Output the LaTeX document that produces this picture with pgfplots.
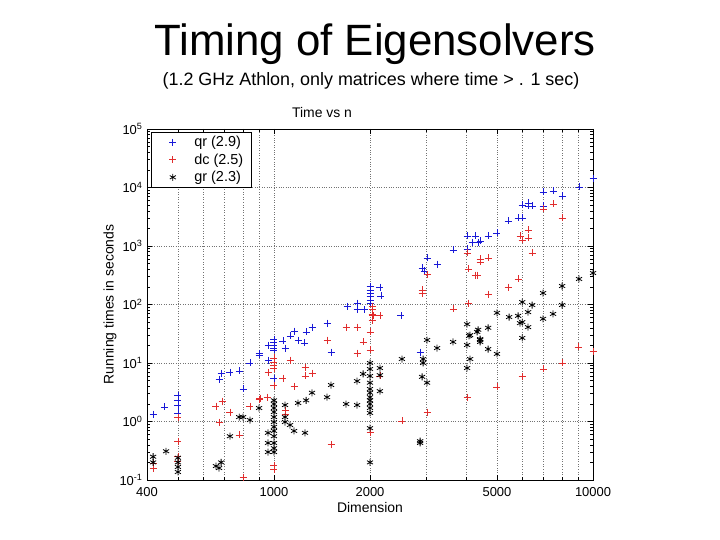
\documentclass[border=0pt]{standalone}
\usepackage{fontspec}
\setmainfont{Liberation Sans}
\usepackage{pgfplots}
\pgfplotsset{compat=1.18}
\definecolor{mblue}{RGB}{25,25,215}
\definecolor{mred}{RGB}{225,45,45}
\pgfplotsset{widelegend/.style={legend image code/.code={\path[draw=none,fill=none] (0bp,-3bp) rectangle (35bp,3bp); \draw[mark repeat=2,mark phase=2,##1] plot coordinates {(0bp,0bp) (15.5bp,0bp) (31bp,0bp)};}}}
\begin{document}
\begin{tikzpicture}[x=1bp,y=1bp]
\useasboundingbox (0,0) rectangle (720,540);
\fill[white] (0,0) rectangle (720,540);
\node[font=\fontsize{44}{48}\selectfont, anchor=base] at (375,484) {Timing of Eigensolvers};
\node[font=\fontsize{18}{20}\selectfont, anchor=base] at (371,454) {(1.2 GHz Athlon, only matrices where time > . 1 sec)};
\node[font=\fontsize{14}{16}\selectfont, anchor=base] at (322,422) {Time vs n};
\begin{axis}[
  at={(147bp,60bp)}, anchor=south west,
  scale only axis, width=446bp, height=351bp,
  xmode=log, ymode=log,
  xmin=400, xmax=10000, ymin=0.1, ymax=100000,
  xtick={400,1000,2000,5000,10000},
  xticklabels={400,1000,2000,5000,10000},
  minor xtick={500,600,700,800,900,3000,4000,6000,7000,8000,9000},
  ytick={0.1,1,10,100,1000,10000,100000},
  yticklabels={10\textsuperscript{-1},10\textsuperscript{0},10\textsuperscript{1},10\textsuperscript{2},10\textsuperscript{3},10\textsuperscript{4},10\textsuperscript{5}},
  minor ytick={0.2,0.3,0.4,0.5,0.6,0.7,0.8,0.9,2,3,4,5,6,7,8,9,20,30,40,50,60,70,80,90,200,300,400,500,600,700,800,900,2000,3000,4000,5000,6000,7000,8000,9000,20000,30000,40000,50000,60000,70000,80000,90000},
  xmajorgrids=true, xminorgrids=true, ymajorgrids=true, yminorgrids=false,
  grid style={dotted, black!55, line width=0.6bp},
  minor grid style={dotted, black!55, line width=0.6bp},
  tick align=inside,
  major tick length=5bp, minor tick length=3bp,
  axis line style={line width=0.6bp},
  tick style={line width=0.5bp, black},
  ticklabel style={font=\fontsize{13}{15}\selectfont},
  xticklabel style={yshift=-4bp},
  yticklabel style={xshift=-1bp},
  xlabel={Dimension},
  ylabel={Running times in seconds},
  xlabel style={font=\fontsize{14}{16}\selectfont, at={(axis description cs:0.5,-0.077)}, anchor=center},
  ylabel style={font=\fontsize{14}{16}\selectfont, at={(axis description cs:-0.083,0.5)}, anchor=center},
  legend style={at={(axis description cs:0.009,0.991)}, anchor=north west, draw=black, fill=white,
    font=\fontsize{14.5}{16}\selectfont, line width=0.6bp, row sep=1.5bp, inner xsep=6bp, inner ysep=2bp,
    /tikz/every even column/.append style={column sep=3bp}},
  legend cell align=left,
  mark size=3.5bp,
]
\addplot[only marks, widelegend, mark=+, mblue, mark options={line width=0.8bp}] coordinates {
(418,1.34) (455,1.77) (500,2.8) (500,2.3) (500,1.91) (500,1.40) (898,14.8) (841,10.0) (778,7.3) (728,7.0) (683,6.7) (673,5.3) (800,3.6)
(1000,25.7) (1000,22.9) (1000,20.3) (1000,18.0) (1000,16.7) (958,20.3) (958,11.2) (898,13.7) (1000,5.5) (1067,23.8) (1083,18.0)
(1123,29) (1156,35) (1190,24.7) (1242,22.0) (1261,34) (1316,41) (1467,48) (1510,15.4) (1695,94) (1822,106) (1822,81) (1916,81)
(2000,207) (2000,177) (2000,157) (2000,140) (2000,119) (2000,106) (2148,199) (2165,140) (2500,64) (2871,15.4) (2913,421) (2955,374)
(3018,624) (3245,492) (3643,855) (4030,1482) (4030,889) (4179,1170) (4269,1482) (4428,1218) (4364,1170) (4691,1482) (5000,1668)
(5418,2676) (5824,3010) (6000,3010) (6000,5026) (6258,5436) (6258,4833) (6443,4833) (6973,4833) (6973,8375) (7496,8710) (8000,7160)
(9040,10200) (10000,14520)
};
\addlegendentry{qr (2.9)}
\addplot[only marks, widelegend, mark=+, mred, mark options={line width=0.8bp}] coordinates {
(500,1.19) (500,0.46) (500,0.25) (500,0.21) (418,0.19) (418,0.16) (688,2.24) (728,1.45) (673,0.98) (778,0.59) (841,1.84) (898,2.4)
(800,0.112) (658,1.84) (1000,12.2) (1000,10.4) (1000,9.2) (1000,8.2) (958,7.0) (1123,11.2) (1251,8.5) (1251,6.0) (1316,6.7) (1067,5.5)
(1156,4.0) (1000,4.2) (951,2.6) (904,2.5) (1083,1.57) (1083,1.3) (1000,0.18) (1000,0.15) (1510,0.40) (2000,0.64) (2029,91) (2029,81)
(2029,69) (2029,54) (2000,34) (2000,16.7) (1683,41) (1822,41) (1467,24.7) (1903,22.9) (1822,14.8) (2148,64) (2043,64) (2913,177)
(2913,157) (3018,332) (3643,84) (4030,759) (4059,405) (4059,106) (4269,319) (4333,319) (4428,600) (4428,533) (4691,624) (4691,151)
(5418,199) (5824,273) (5906,1482) (6000,1267) (6258,1878) (6258,1370) (6443,759) (6973,4290) (7496,5227) (8000,3010) (2148,6.0)
(2518,1.02) (3018,1.45) (4030,2.6) (8000,10.0) (6973,7.9) (6000,5.8) (5000,3.9) (8978,18.8) (10000,16)
};
\addlegendentry{dc (2.5)}
\addplot[only marks, widelegend, mark=asterisk, black, mark options={line width=0.8bp}] coordinates {
(418,0.25) (418,0.20) (500,0.24) (500,0.20) (500,0.167) (500,0.137) (459,0.31) (683,0.20) (673,0.160) (658,0.173) (728,0.56)
(778,1.19) (800,1.19) (841,1.06) (898,1.70) (1000,2.3) (1000,1.99) (1000,1.70) (1000,1.45) (1000,1.19) (1000,0.98) (1000,0.81)
(1000,0.69) (1000,0.56) (1000,0.43) (1000,0.35) (1000,0.30) (958,0.64) (958,0.43) (958,0.30) (1083,1.91) (1083,1.19) (1083,0.98)
(1123,0.87) (1156,0.69) (1190,2.07) (1261,2.3) (1251,0.64) (1316,3.1) (1467,2.6) (1510,4.2) (1683,1.99) (1822,1.91) (1822,4.9)
(1903,6.5) (2000,10) (2000,7.9) (2000,6.0) (2000,4.6) (2000,3.6) (2000,3.1) (2000,2.6) (2000,2.3) (2000,2.0) (2000,1.70) (2000,1.40)
(2000,0.77) (2000,0.20) (2148,8.2) (2148,6.2) (2148,3.3) (2518,11.7) (2934,11.7) (2934,10) (3018,24.7) (2913,5.8) (3018,4.6)
(2871,0.46) (2871,0.43) (3245,18.0) (3643,22.9) (4030,20.3) (4118,30) (4118,11.7) (4030,8.2) (4428,24.7) (4333,34) (4030,46)
(4364,37) (4088,29) (4691,40) (4428,25.7) (4428,22.9) (4691,17.3) (5000,14.3) (5000,72) (5458,61) (5824,64) (6258,74) (5906,48)
(6000,50) (6258,41) (6973,57) (7496,69) (6000,26.8) (6000,110) (6443,98) (6973,157) (8000,207) (8000,98) (9040,273) (10000,345)
};
\addlegendentry{gr (2.3)}
\end{axis}
\end{tikzpicture}
\end{document}
